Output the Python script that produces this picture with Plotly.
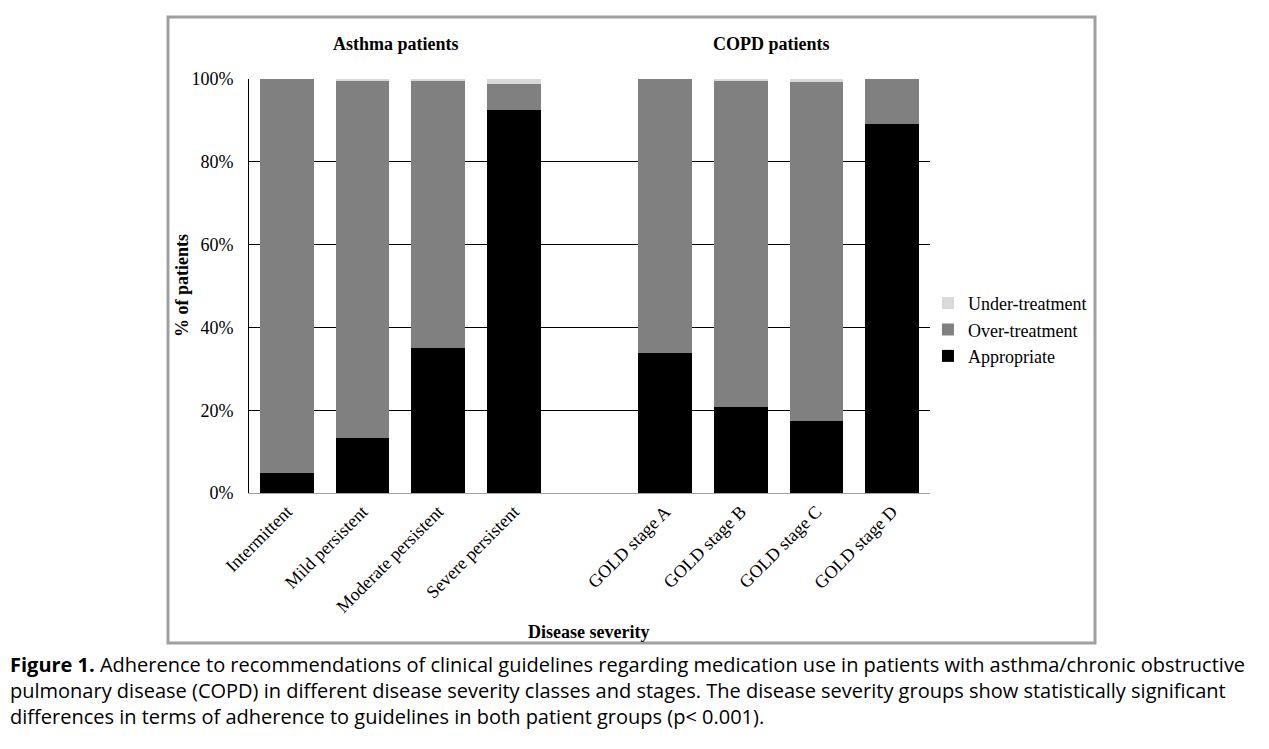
import plotly.graph_objects as go

categories = ["Intermittent", "Mild persistent", "Moderate persistent", "Severe persistent",
              " ",
              "GOLD stage A", "GOLD stage B", "GOLD stage C", "GOLD stage D"]
bar_categories = ["Intermittent", "Mild persistent", "Moderate persistent", "Severe persistent",
                  "GOLD stage A", "GOLD stage B", "GOLD stage C", "GOLD stage D"]
appropriate = [4.8, 13.3, 35.1, 92.4, 33.9, 20.8, 17.4, 89.2]
over_treatment = [95.2, 86.1, 64.3, 6.5, 66.1, 78.6, 81.8, 10.8]
under_treatment = [0.0, 0.6, 0.6, 1.1, 0.0, 0.6, 0.8, 0.0]
y_ticks = [0, 20, 40, 60, 80, 100]
y_tick_labels = ["0%", "20%", "40%", "60%", "80%", "100%"]

SERIF = "Liberation Serif"

fig = go.Figure()
fig.add_trace(go.Bar(x=bar_categories, y=appropriate, name="Appropriate",
                     marker=dict(color="#000000", line=dict(width=0))))
fig.add_trace(go.Bar(x=bar_categories, y=over_treatment, name="Over-treatment",
                     marker=dict(color="#808080", line=dict(width=0))))
fig.add_trace(go.Bar(x=bar_categories, y=under_treatment, name="Under-treatment",
                     marker=dict(color="#d9d9d9", line=dict(width=0))))

# page has an 8px body margin; figure sized to fit window
fig.update_layout(
    width=1261, height=741,
    barmode="stack", bargap=0.29,
    paper_bgcolor="white", plot_bgcolor="white",
    margin=dict(l=241, r=339, t=71, b=256, autoexpand=False),
    font=dict(family=SERIF, size=18, color="black"),
    showlegend=True,
    legend=dict(x=0.997, y=0.394, xanchor="left", yanchor="middle",
                traceorder="reversed", font=dict(family=SERIF, size=18, color="black"),
                itemsizing="constant", tracegroupgap=0, bgcolor="rgba(0,0,0,0)"),
    xaxis=dict(type="category", categoryorder="array", categoryarray=categories,
               tickangle=-45, showline=True, linecolor="#a0a0a0", linewidth=1,
               ticks="", showgrid=False, tickfont=dict(family=SERIF, size=18, color="black")),
    yaxis=dict(range=[0, 100], tickvals=y_ticks, ticktext=y_tick_labels,
               showgrid=True, gridcolor="black", gridwidth=1,
               showline=True, linecolor="black", linewidth=1, zeroline=False,
               ticks="", ticklabelstandoff=11,
               tickfont=dict(family=SERIF, size=18, color="black")),
)

PW, PH = 681.0, 414.0  # plot area size in px
def px(x):
    return (x - 249) / PW
def py(y):
    return (493 - y) / PH

# outer frame
fig.add_shape(type="rect", xref="paper", yref="paper",
              x0=px(168), x1=px(1095), y0=py(643), y1=py(17),
              line=dict(color="#a0a0a0", width=3), fillcolor="rgba(0,0,0,0)", layer="below")

ann = [
    dict(text="<b>Asthma patients</b>", x=px(396), y=py(44)),
    dict(text="<b>COPD patients</b>", x=px(771), y=py(44)),
    dict(text="<b>Disease severity</b>", x=px(588), y=py(632)),
]
for a in ann:
    fig.add_annotation(text=a["text"], x=a["x"], y=a["y"], xref="paper", yref="paper",
                       showarrow=False, xanchor="center", yanchor="middle",
                       font=dict(family=SERIF, size=18, color="black"))

fig.add_annotation(text="<b>% of patients</b>", x=px(182), y=py(286), xref="paper", yref="paper",
                   showarrow=False, textangle=-90, xanchor="center", yanchor="middle",
                   font=dict(family=SERIF, size=18, color="black"))

caption_lines = [
    "<b>Figure 1.</b> Adherence to recommendations of clinical guidelines regarding medication use in patients with asthma/chronic obstructive",
    "pulmonary disease (COPD) in different disease severity classes and stages. The disease severity groups show statistically significant",
    "differences in terms of adherence to guidelines in both patient groups (p&lt; 0.001).",
]
fig.add_annotation(text="<br>".join(caption_lines), x=px(8), y=py(690),
                   xref="paper", yref="paper", showarrow=False,
                   xanchor="left", yanchor="middle", align="left",
                   font=dict(family="Open Sans", size=20, color="black"))

fig.write_html("out.html")
